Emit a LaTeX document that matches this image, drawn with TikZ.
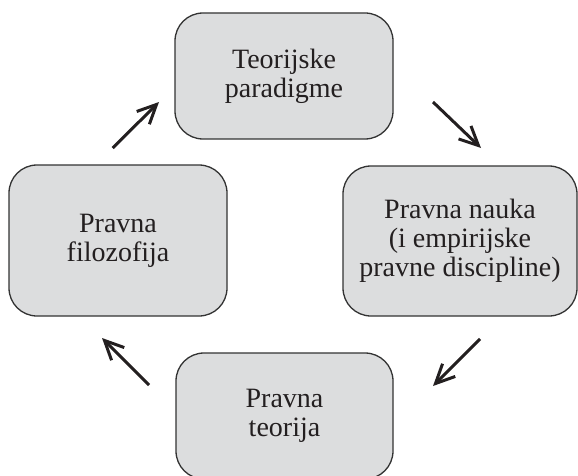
\documentclass[tikz,border=0pt]{standalone}
\usepackage{fontspec}
\setmainfont{Liberation Serif}
\usetikzlibrary{arrows.meta}
\definecolor{boxfill}{HTML}{DCDDDE}
\definecolor{boxline}{HTML}{333333}
\definecolor{ink}{HTML}{231F20}
\begin{document}
\begin{tikzpicture}[x=1pt,y=-1pt,
  stage/.style={draw=boxline, line width=1.3pt, fill=boxfill, rounded corners=28pt,
    align=center, text=ink, inner sep=0pt,
    font=\fontsize{28}{29}\selectfont},
  flow/.style={draw=ink, line width=3pt, -{Straight Barb[length=19pt,width=18pt]}}]
\useasboundingbox (0,0) rectangle (578,476);
\node[stage, minimum width=218pt, minimum height=126pt] (top) at (284,76) {Teorijske\\paradigme};
\node[stage, minimum width=234pt, minimum height=150pt] (right) at (460,241) {Pravna nauka\\(i empirijske\\pravne discipline)};
\node[stage, minimum width=218pt, minimum height=151pt] (left) at (118,240.5) {Pravna\\filozofija};
\node[stage, minimum width=217pt, minimum height=126pt] (bottom) at (284.5,416) {Pravna\\teorija};
\coordinate (a1s) at (112.7,148); \coordinate (a1e) at (159,102);
\coordinate (a2s) at (433,102);   \coordinate (a2e) at (481,148);
\coordinate (a3s) at (480,339);   \coordinate (a3e) at (433,386);
\coordinate (a4s) at (149,385);   \coordinate (a4e) at (102,338);
\draw[flow] (a1s) -- (a1e);
\draw[flow] (a2s) -- (a2e);
\draw[flow] (a3s) -- (a3e);
\draw[flow] (a4s) -- (a4e);
\end{tikzpicture}
\end{document}
